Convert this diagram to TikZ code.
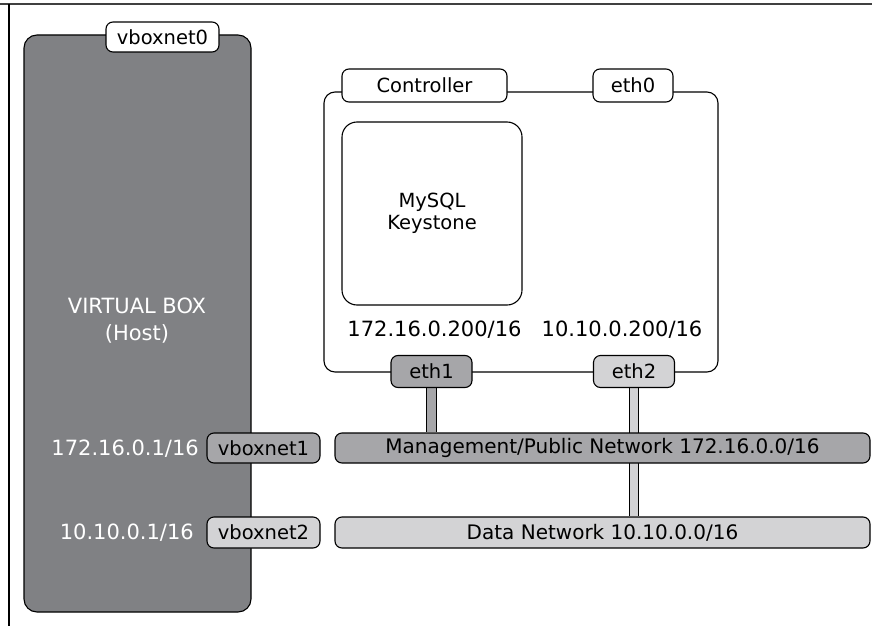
\documentclass[tikz,border=0pt]{standalone}
\usepackage{fontspec}
\setmainfont{DejaVu Sans}
\usetikzlibrary{backgrounds}
\definecolor{hostgray}{HTML}{808184}
\definecolor{midgray}{HTML}{A6A6A9}
\definecolor{lightgray}{HTML}{D3D3D5}
\tikzset{
  box/.style={draw=black, line width=1.1pt, inner sep=0pt, rounded corners=7pt,
    font=\fontsize{19.5}{22}\selectfont},
  lbl/.style={box, fill=white},
  midbox/.style={box, fill=midgray},
  lightbox/.style={box, fill=lightgray},
  iptext/.style={inner sep=0pt, font=\fontsize{21}{24}\selectfont},
  hostip/.style={inner sep=0pt, text=white, font=\fontsize{21}{24}\selectfont},
  bar/.style={line width=1.1pt, draw=black, double distance=8.5pt}
}
\begin{document}
\begin{tikzpicture}[x=1pt,y=-1pt]
\useasboundingbox (0,0) rectangle (872,626);
% frame
\draw[line width=2.5pt, black!75] (0,4) -- (872,4);
\draw[line width=1.2pt] (9,4) -- (9,626);
% host
\node[box, fill=hostgray, rounded corners=13pt, minimum width=227pt, minimum height=577pt] (host) at (137.5,323.5) {};
\node[lbl, minimum width=113pt, minimum height=30pt] (vbn0) at (162.5,37) {vboxnet0};
\node[inner sep=0pt, text=white, align=center, font=\fontsize{21}{27}\selectfont] (hosttext) at (137,321) {VIRTUAL BOX\\(Host)};
\node[midbox, minimum width=113pt, minimum height=30pt] (vbn1) at (263.5,448) {vboxnet1};
\node[lightbox, minimum width=113pt, minimum height=31pt] (vbn2) at (263.5,532.5) {vboxnet2};
\node[hostip, anchor=east] (ip1) at (199,449) {172.16.0.1/16};
\node[hostip, anchor=east] (ip2) at (194,533) {10.10.0.1/16};
% controller
\node[box, rounded corners=11pt, minimum width=394pt, minimum height=280pt] (ctrl) at (521,232) {};
\node[lbl, minimum width=165pt, minimum height=33pt] (ctrllbl) at (424.5,85.5) {Controller};
\node[lbl, minimum width=80pt, minimum height=33pt] (eth0) at (633,85.5) {eth0};
\node[box, rounded corners=15pt, minimum width=180pt, minimum height=183pt, align=center] (mysql) at (432,213.5) {MySQL\\Keystone};
\node[iptext] (ipc1) at (434.5,330) {172.16.0.200/16};
\node[iptext] (ipc2) at (622,330) {10.10.0.200/16};
\node[midbox, minimum width=81pt, minimum height=32pt] (eth1) at (431.5,371.5) {eth1};
\node[lightbox, minimum width=81pt, minimum height=32pt] (eth2) at (634,371.5) {eth2};
% networks
\node[midbox, minimum width=535pt, minimum height=30pt, font=\fontsize{20}{22}\selectfont] (mgmt) at (602.5,448) {Management/Public Network 172.16.0.0/16};
\node[lightbox, minimum width=535pt, minimum height=31pt, font=\fontsize{20}{22}\selectfont] (data) at (602.5,532.5) {Data Network 10.10.0.0/16};
% connectors
\begin{pgfonlayer}{background}
\fill[white] (0,0) rectangle (872,626);
\draw[bar, double=midgray] (eth1.south) -- (eth1.south |- mgmt.north);
\draw[bar, double=lightgray] (eth2.south) -- (eth2.south |- data.north);
\end{pgfonlayer}
\end{tikzpicture}
\end{document}
